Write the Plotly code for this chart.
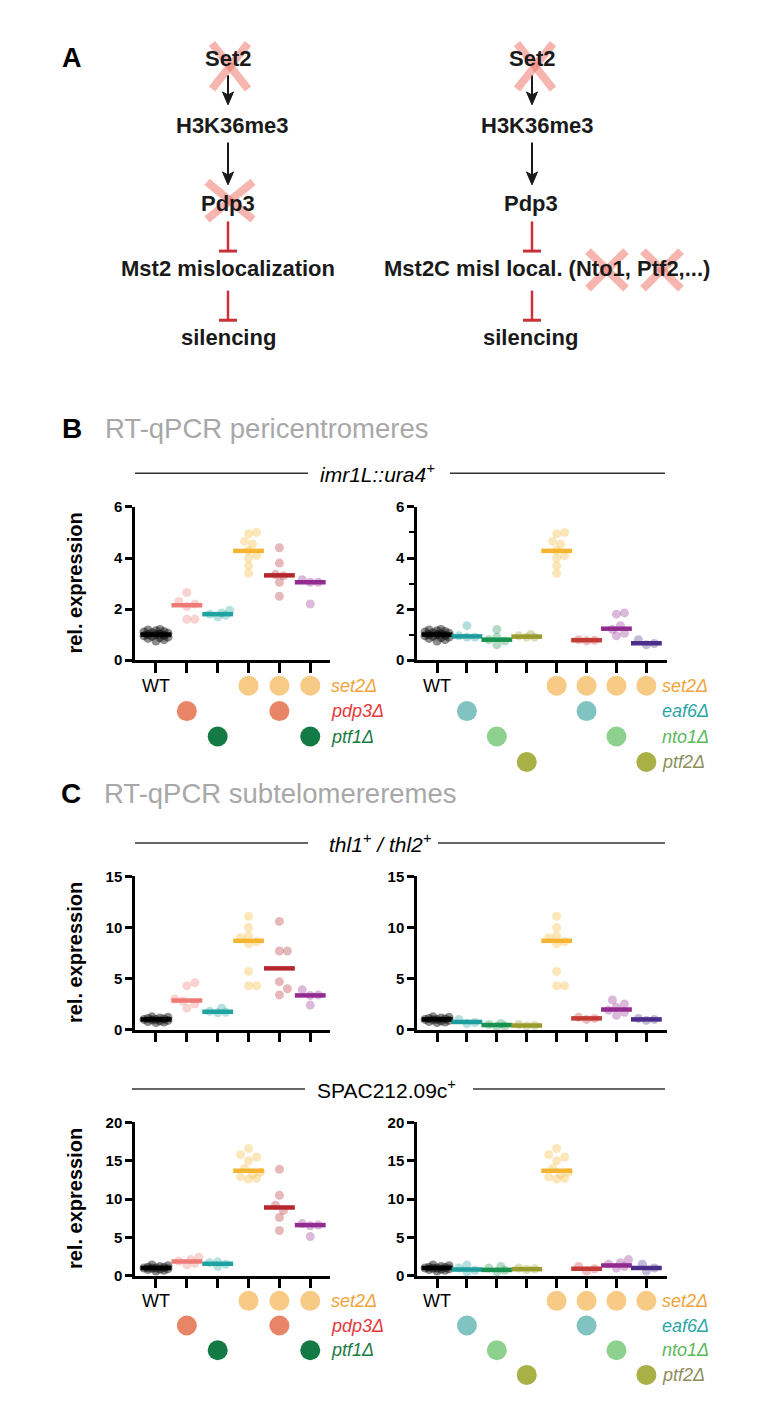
import numpy as np
import plotly.graph_objects as go

W, H = 776, 1419

# ---------------- data ----------------
left_groups = ["WT", "pdp3Δ", "ptf1Δ", "set2Δ", "set2Δ pdp3Δ", "set2Δ ptf1Δ"]
right_groups = ["WT", "eaf6Δ", "nto1Δ", "ptf2Δ", "set2Δ", "set2Δ eaf6Δ", "set2Δ nto1Δ", "set2Δ ptf2Δ"]

# imr1L::ura4+ (pericentromeres)
imr_wt = [0.75, 0.8, 0.85, 0.88, 0.9, 0.93, 0.95, 0.97, 1.0, 1.0, 1.02, 1.05, 1.07, 1.1, 1.12, 1.15, 1.18, 1.2]
imr_set2 = [5.0, 4.95, 4.65, 4.55, 4.3, 4.1, 4.0, 3.7, 3.4]
imr_left_pts = [imr_wt, [2.65, 2.3, 2.2, 2.1, 1.6, 1.6], [1.95, 1.85, 1.8, 1.75, 1.7],
                imr_set2, [4.4, 3.8, 3.35, 3.3, 3.05, 2.5], [3.15, 3.05, 3.05, 2.2]]
imr_left_mean = [1.0, 2.15, 1.8, 4.28, 3.32, 3.05]
imr_right_pts = [imr_wt, [1.35, 0.95, 0.9, 0.9], [1.2, 0.9, 0.8, 0.75, 0.6], [1.0, 0.95, 0.9, 0.9],
                 imr_set2, [0.8, 0.78, 0.76], [1.85, 1.8, 1.35, 1.2, 1.05, 0.95], [0.8, 0.65, 0.6]]
imr_right_mean = [1.0, 0.93, 0.8, 0.92, 4.28, 0.78, 1.23, 0.66]

# thl1+ / thl2+ (subtelomeres)
thl_wt = [0.7, 0.75, 0.8, 0.85, 0.9, 0.95, 1.0, 1.0, 1.05, 1.1, 1.15, 1.2, 1.25]
thl_set2 = [11.1, 10.0, 9.2, 9.0, 8.6, 8.4, 5.7, 4.3, 4.3]
thl_left_pts = [thl_wt, [4.6, 4.3, 3.0, 2.8, 2.5, 2.1], [2.1, 1.8, 1.7, 1.65],
                thl_set2, [10.6, 7.7, 7.7, 4.7, 4.0, 3.4], [3.9, 3.4, 3.35, 2.4]]
thl_left_mean = [1.0, 2.85, 1.75, 8.7, 6.0, 3.35]
thl_right_pts = [thl_wt, [1.0, 0.7, 0.6], [0.6, 0.5, 0.35, 0.3], [0.5, 0.4, 0.35],
                 thl_set2, [1.2, 1.1, 1.0], [2.9, 2.5, 2.2, 1.9, 1.7, 1.4], [1.1, 1.0, 0.9]]
thl_right_mean = [1.0, 0.75, 0.45, 0.4, 8.7, 1.1, 1.97, 1.0]

# SPAC212.09c+
spac_wt = [0.6, 0.7, 0.8, 0.85, 0.9, 0.95, 1.0, 1.0, 1.05, 1.1, 1.2, 1.3, 1.4]
spac_set2 = [16.6, 15.8, 15.5, 15.0, 14.0, 13.5, 13.2, 12.9, 12.7, 12.6]
spac_left_pts = [spac_wt, [2.4, 2.1, 1.9, 1.6, 1.4], [1.8, 1.7, 1.5, 1.2],
                 spac_set2, [13.9, 10.5, 9.2, 8.5, 7.6, 5.9], [6.8, 6.6, 6.5, 5.1]]
spac_left_mean = [1.0, 1.85, 1.55, 13.7, 8.9, 6.6]
spac_right_pts = [spac_wt, [1.4, 1.0, 0.7, 0.5], [1.2, 1.0, 0.7, 0.5], [1.0, 0.9, 0.8],
                  spac_set2, [1.2, 0.9, 0.6], [2.1, 1.7, 1.5, 1.2, 1.0], [1.5, 1.0, 0.6]]
spac_right_mean = [1.0, 0.8, 0.75, 0.85, 13.7, 0.9, 1.33, 1.0]

# genotype matrices (rows of mutations)
left_rows = ["set2Δ", "pdp3Δ", "ptf1Δ"]
left_matrix = [[0, 0, 0, 1, 1, 1], [0, 1, 0, 0, 1, 0], [0, 0, 1, 0, 0, 1]]
right_rows = ["set2Δ", "eaf6Δ", "nto1Δ", "ptf2Δ"]
right_matrix = [[0, 0, 0, 0, 1, 1, 1, 1], [0, 1, 0, 0, 0, 1, 0, 0],
                [0, 0, 1, 0, 0, 0, 1, 0], [0, 0, 0, 1, 0, 0, 0, 1]]

# ---------------- styles ----------------
left_colors = ["#000000", "#EE7A76", "#1FA3A0", "#F6B530", "#B5272D", "#922B8F"]
right_colors = ["#000000", "#1E9C9E", "#17934F", "#9A9B2F", "#F6B530", "#C23B36", "#922B8F", "#4B2D8A"]
row_circle = {"set2Δ": "#F7CB85", "pdp3Δ": "#E98567", "ptf1Δ": "#137A45",
              "eaf6Δ": "#80C3C1", "nto1Δ": "#8ED08E", "ptf2Δ": "#A9B046"}
row_text = {"set2Δ": "#F2A33A", "pdp3Δ": "#E5383B", "ptf1Δ": "#1B7A43",
            "eaf6Δ": "#2BA6A6", "nto1Δ": "#5CB85C", "ptf2Δ": "#8E8E5C"}
FONT = "Liberation Sans, Arial, Helvetica, sans-serif"
GRAY = "#A8A8A8"
RED = "#C8303A"


def X(x):
    return x / W


def Y(y):
    return 1 - y / H


def rgba(hx, a):
    hx = hx.lstrip("#")
    r, g, b = int(hx[0:2], 16), int(hx[2:4], 16), int(hx[4:6], 16)
    return f"rgba({r},{g},{b},{a})"


def swarm(vals, ppu_y, ppu_x, d=7.5, step=4.0, maxk=3):
    vals = np.asarray(vals, float)
    order = np.argsort(vals)
    cands = [0]
    for k in range(1, maxk + 1):
        cands += [k, -k]
    placed = []
    offs = np.zeros(len(vals))
    for idx in order:
        yv = vals[idx] * ppu_y
        best, bestd = 0.0, -1.0
        for k in cands:
            xv = k * step
            md = min([np.hypot(xv - a, yv - b) for a, b in placed], default=1e9)
            if md >= d:
                best = xv
                break
            if md > bestd:
                bestd, best = md, xv
        placed.append((best, yv))
        offs[idx] = best / ppu_x
    return offs


fig = go.Figure()
layout = dict(width=W, height=H, margin=dict(l=0, r=0, t=0, b=0), paper_bgcolor="white",
              plot_bgcolor="rgba(0,0,0,0)", showlegend=False,
              font=dict(family=FONT, color="black"))
shapes, annotations = [], []

# ---------------- Panel A ----------------
annotations.append(dict(text="<b>A</b>", x=X(72), y=Y(50), font=dict(size=27)))
a_texts = [("Set2", 228, 50), ("H3K36me3", 232, 118), ("Pdp3", 228, 197),
           ("Mst2 mislocalization", 228, 263), ("silencing", 228, 332),
           ("Set2", 532, 50), ("H3K36me3", 537, 118), ("Pdp3", 531, 197),
           ("Mst2C misl local. (Nto1, Ptf2,...)", 547, 263), ("silencing", 530, 332)]
for t, x, y in a_texts:
    annotations.append(dict(text=f"<b>{t}</b>", x=X(x), y=Y(y), font=dict(size=22, color="#1a1a1a")))
for x, y0, y1 in [(228, 67, 97), (228, 135, 178), (532, 67, 97), (532, 135, 178)]:
    shapes.append(dict(type="line", xref="paper", yref="paper", x0=X(x), x1=X(x), y0=Y(y0), y1=Y(y1 - 8),
                       line=dict(color="#1a1a1a", width=2)))
    shapes.append(dict(type="path", xref="paper", yref="paper",
                       path=f"M {X(x)} {Y(y1)} L {X(x - 5.5)} {Y(y1 - 13)} L {X(x)} {Y(y1 - 10)} L {X(x + 5.5)} {Y(y1 - 13)} Z",
                       fillcolor="#1a1a1a", line=dict(color="#1a1a1a", width=1)))
for x, y0, y1 in [(228, 215, 245), (228, 285, 315), (532, 215, 245), (532, 285, 315)]:
    shapes.append(dict(type="line", xref="paper", yref="paper", x0=X(x), x1=X(x), y0=Y(y0), y1=Y(y1),
                       line=dict(color=RED, width=2.5)))
    shapes.append(dict(type="line", xref="paper", yref="paper", x0=X(x - 9), x1=X(x + 9), y0=Y(y1), y1=Y(y1),
                       line=dict(color=RED, width=3)))
for cx, cy, hw, hh in [(230, 58, 18, 23), (230, 194, 23, 19), (535, 58, 18, 23), (607, 264, 19, 19), (662, 264, 19, 19)]:
    for sgn in (1, -1):
        shapes.append(dict(type="line", xref="paper", yref="paper", layer="above",
                           x0=X(cx - hw), x1=X(cx + hw), y0=Y(cy - sgn * hh), y1=Y(cy + sgn * hh),
                           line=dict(color="rgba(240,120,110,0.55)", width=8)))

# ---------------- Panel titles ----------------
annotations.append(dict(text="<b>B</b>", x=X(72), y=Y(425), font=dict(size=28)))
annotations.append(dict(text="RT-qPCR pericentromeres", x=X(103), y=Y(425), xanchor="left", font=dict(size=27.5, color=GRAY)))
annotations.append(dict(text="<b>C</b>", x=X(71), y=Y(794), font=dict(size=28)))
annotations.append(dict(text="RT-qPCR subtelomereremes", x=X(102), y=Y(794), xanchor="left", font=dict(size=27.5, color=GRAY)))

headers = [(470, "<i>imr1L::ura4<sup>+</sup></i>", 377, (135, 308), (450, 665)),
           (844, "<i>thl1<sup>+</sup> / thl2<sup>+</sup></i>", 380, (135, 308), (438, 665)),
           (1093, "SPAC212.09c<sup>+</sup>", 386, (132, 305), (473, 665))]
for y, t, cx, l1, l2 in headers:
    annotations.append(dict(text=t, x=X(cx), y=Y(y), font=dict(size=21)))
    for a, b in (l1, l2):
        shapes.append(dict(type="line", xref="paper", yref="paper", x0=X(a), x1=X(b), y0=Y(y), y1=Y(y),
                           line=dict(color="#333333", width=1.5)))

# ---------------- scatter plots ----------------
LX = ((135, 330), (-0.68, 5.64))
RX = ((417, 667), (-0.67, 7.69))
plots = [
    (LX, (504, 659), (0, 6), 2, False, imr_left_pts, imr_left_mean, left_colors),
    (RX, (504, 659), (0, 6), 2, True, imr_right_pts, imr_right_mean, right_colors),
    (LX, (878, 1033), (0, 15), 5, False, thl_left_pts, thl_left_mean, left_colors),
    (RX, (878, 1033), (0, 15), 5, False, thl_right_pts, thl_right_mean, right_colors),
    (LX, (1127, 1282), (0, 20), 5, False, spac_left_pts, spac_left_mean, left_colors),
    (RX, (1127, 1282), (0, 20), 5, False, spac_right_pts, spac_right_mean, right_colors),
]

for k, ((xd, xr), yd, yr, dt, minor, pts, means, cols) in enumerate(plots, start=1):
    sfx = "" if k == 1 else str(k)
    xa, ya = "x" + sfx, "y" + sfx
    n = len(pts)
    layout["xaxis" + sfx] = dict(domain=[X(xd[0]), X(xd[1])], range=list(xr), anchor=ya,
                                 showline=True, linecolor="black", linewidth=2.5,
                                 ticks="outside", ticklen=10, tickwidth=2.5, tickcolor="black",
                                 tickvals=list(range(n)), showticklabels=False,
                                 showgrid=False, zeroline=False, fixedrange=True)
    yax = dict(domain=[Y(yd[1]), Y(yd[0])], range=list(yr), anchor=xa,
               showline=True, linecolor="black", linewidth=2.5,
               ticks="outside", ticklen=7, tickwidth=2.5, tickcolor="black",
               tick0=0, dtick=dt, tickfont=dict(size=15, color="black", weight="bold"),
               showgrid=False, zeroline=False, fixedrange=True)
    if minor:
        yax["minor"] = dict(ticks="outside", dtick=1, tick0=0, ticklen=5, tickwidth=2, tickcolor="black", showgrid=False)
    layout["yaxis" + sfx] = yax
    ppu_y = (yd[1] - yd[0]) / (yr[1] - yr[0])
    ppu_x = (xd[1] - xd[0]) / (xr[1] - xr[0])
    for i, (vals, c) in enumerate(zip(pts, cols)):
        offs = swarm(vals, ppu_y, ppu_x)
        fig.add_trace(go.Scatter(x=i + offs, y=vals, mode="markers", xaxis=xa, yaxis=ya,
                                 marker=dict(size=9, color=rgba(c, 0.33 if i else 0.45)),
                                 cliponaxis=False, hoverinfo="skip"))
    fig.add_trace(go.Scatter(x=list(range(n)), y=means, mode="markers", xaxis=xa, yaxis=ya,
                             marker=dict(symbol="line-ew", size=22, color=cols, line=dict(width=4.5, color=cols)),
                             cliponaxis=False, hoverinfo="skip"))
    if k % 2 == 1:
        annotations.append(dict(text="<b>rel. expression</b>", x=X(75), y=Y((yd[0] + yd[1]) / 2),
                                textangle=-90, font=dict(size=20)))

# ---------------- genotype legends ----------------
legends = [(1, 7, (672, 775), left_rows, left_matrix, 5.6),
           (2, 8, (672, 775), right_rows, right_matrix, 7.45),
           (5, 9, (1295, 1395), left_rows, left_matrix, 5.6),
           (6, 10, (1295, 1395), right_rows, right_matrix, 7.45)]
for kx, ky, yd, rows, mat, lx in legends:
    xa = "x" if kx == 1 else f"x{kx}"
    ya = f"y{ky}"
    layout[f"yaxis{ky}"] = dict(domain=[Y(yd[1]), Y(yd[0])], range=[3.5, -0.5], anchor=xa,
                                visible=False, fixedrange=True)
    for r, (name, flags) in enumerate(zip(rows, mat)):
        xs = [i for i, f in enumerate(flags) if f]
        fig.add_trace(go.Scatter(x=xs, y=[r] * len(xs), mode="markers", xaxis=xa, yaxis=ya,
                                 marker=dict(size=20, color=row_circle[name]), cliponaxis=False, hoverinfo="skip"))
        annotations.append(dict(text=f"<i>{name}</i>", x=lx, y=r, xref=xa, yref=ya, xanchor="left",
                                font=dict(size=18, color=row_text[name])))
    annotations.append(dict(text="WT", x=0, y=0, xref=xa, yref=ya, font=dict(size=18, color="black")))

for a in annotations:
    a.setdefault("xref", "paper")
    a.setdefault("yref", "paper")
    a.setdefault("showarrow", False)
    a.setdefault("xanchor", "center")
    a.setdefault("yanchor", "middle")

layout["shapes"] = shapes
layout["annotations"] = annotations
fig.update_layout(**layout)
fig.write_html("out.html", config={"displayModeBar": False},
               post_script="document.body.style.margin='0';")
